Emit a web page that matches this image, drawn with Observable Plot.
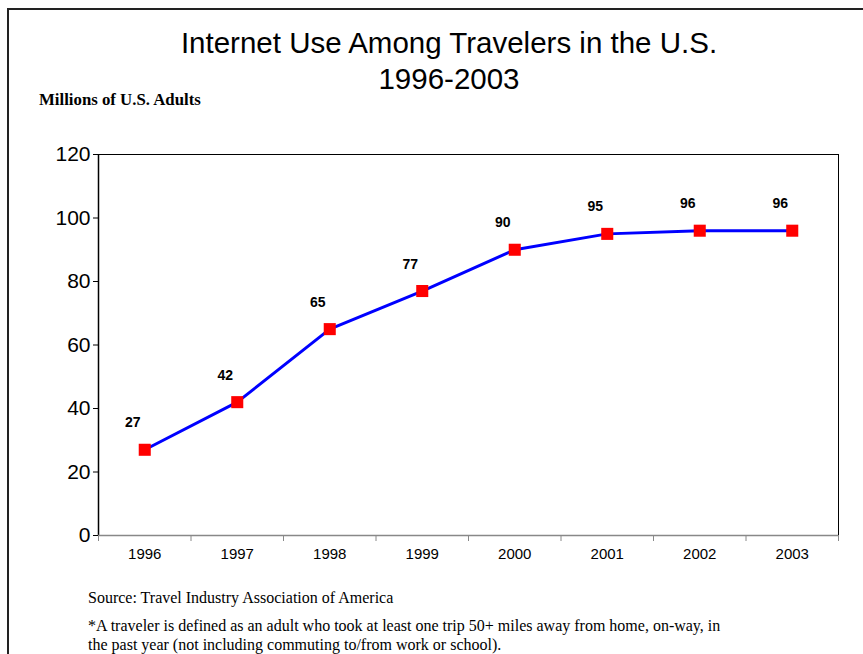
<!DOCTYPE html>
<html>
<head>
<meta charset="utf-8">
<script src="https://cdn.jsdelivr.net/npm/d3@7"></script>
<script src="https://cdn.jsdelivr.net/npm/@observablehq/plot@0.6"></script>
<style>
  html, body { margin: 0; padding: 0; background: #fff; }
  #page { position: relative; width: 863px; height: 654px; overflow: hidden; background: #fff; }
  #frame { position: absolute; left: 7px; top: 8px; width: 900px; height: 700px; border-left: 2px solid #222; border-top: 2px solid #222; }
  .title { position: absolute; left: 0; width: 898px; text-align: center; font-family: "Liberation Sans", Arial, sans-serif; font-size: 29.5px; color: #000; white-space: nowrap; }
  #ylab { position: absolute; left: 39px; top: 90px; font-family: "Liberation Serif", "Times New Roman", serif; font-weight: bold; font-size: 16.8px; white-space: nowrap; }
  .note { position: absolute; left: 88px; font-family: "Liberation Serif", "Times New Roman", serif; font-size: 16px; color: #000; white-space: nowrap; }
  #chart { position: absolute; left: 0; top: 130px; }
</style>
</head>
<body>
<div id="page">
  <div id="frame"></div>
  <div class="title" style="top:26px">Internet Use Among Travelers in the U.S.</div>
  <div class="title" style="top:62px">1996-2003</div>
  <div id="ylab">Millions of U.S. Adults</div>
  <div id="chart"></div>
  <div class="note" style="top:589px">Source: Travel Industry Association of America</div>
  <div class="note" style="top:617px">*A traveler is defined as an adult who took at least one trip 50+ miles away from home, on-way, in</div>
  <div class="note" style="top:636px">the past year (not including commuting to/from work or school).</div>
</div>
<script>
const years = [1996, 1997, 1998, 1999, 2000, 2001, 2002, 2003];
const values = [27, 42, 65, 77, 90, 95, 96, 96];
const yTicks = [0, 20, 40, 60, 80, 100, 120];

const data = years.map((y, i) => ({year: y, value: values[i]}));
const xMin = years[0] - 0.5, xMax = years[years.length - 1] + 0.5;
const boundaries = d3.range(years.length + 1).map(i => xMin + i);

const chart = Plot.plot({
  width: 863,
  height: 440,
  marginLeft: 98,
  marginRight: 25,
  marginTop: 24,
  marginBottom: 35,
  style: {fontFamily: "'Liberation Sans', Arial, sans-serif", background: "transparent"},
  x: {domain: [xMin, xMax]},
  y: {domain: [0, 120]},
  marks: [
    Plot.axisY({ticks: yTicks, tickSize: 5, tickPadding: 3, fontSize: 21, stroke: "#000", tickFormat: d => d, label: null}),
    Plot.axisX({ticks: boundaries, tickSize: 6, stroke: "#888", tickFormat: () => "", label: null}),
    Plot.axisX({ticks: years, tickSize: 0, tickPadding: 13, fontSize: 15, tickFormat: d => String(d), label: null}),
    Plot.ruleY([120], {stroke: "#000", strokeWidth: 1}),
    Plot.ruleX([xMax], {stroke: "#000", strokeWidth: 1}),
    Plot.ruleX([xMin], {stroke: "#000", strokeWidth: 1.5}),
    Plot.ruleY([0], {stroke: "#888", strokeWidth: 1.5}),
    Plot.line(data, {x: "year", y: "value", stroke: "#0000ff", strokeWidth: 3}),
    Plot.dot(data, {x: "year", y: "value", symbol: "square", r: 6.8, fill: "#ff0000", stroke: "none"}),
    Plot.text(data, {x: "year", y: "value", text: d => String(d.value), dx: -12, dy: -27, fontSize: 14, fontWeight: "bold", fill: "#000"})
  ]
});
document.getElementById("chart").appendChild(chart);
</script>
</body>
</html>
